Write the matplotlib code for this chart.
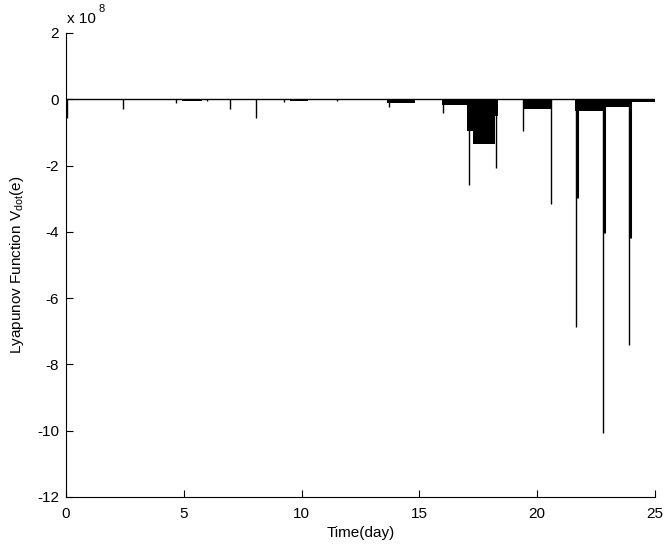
import matplotlib
matplotlib.use("Agg")
import matplotlib.pyplot as plt

plt.rcParams['font.family'] = ['Liberation Sans', 'DejaVu Sans']
plt.rcParams['mathtext.fontset'] = 'custom'
plt.rcParams['mathtext.rm'] = 'Liberation Sans'
plt.rcParams['mathtext.it'] = 'Liberation Sans'
plt.rcParams['axes.unicode_minus'] = False

# values in units of 1e8
# narrow spikes: time (day), depth
spike_t = [0.03, 2.42, 4.67, 5.98, 6.96, 8.06, 9.25, 11.5, 13.71, 16.0,
           17.1, 18.25, 19.4, 20.59, 21.65, 22.8, 23.9]
spike_v = [-0.57, -0.29, -0.1, -0.05, -0.29, -0.57, -0.08, -0.05, -0.23, -0.42,
           -2.58, -2.07, -0.95, -3.15, -6.88, -10.08, -7.42]

# thicker upper parts of the last three spikes
thick_t = [21.67, 22.82, 23.92]
thick_v = [-2.98, -4.04, -4.2]

# dense oscillation regions: start, end, depth
band_start = [4.92, 9.5, 13.62, 15.96, 17.02, 17.27, 18.2, 19.4, 21.6, 22.79, 23.94]
band_end = [5.77, 10.27, 14.81, 17.02, 17.27, 18.2, 18.34, 20.63, 22.79, 23.9, 25.0]
band_v = [-0.06, -0.05, -0.12, -0.17, -0.95, -1.35, -0.5, -0.3, -0.36, -0.22, -0.07]

fig = plt.figure(figsize=(6.66, 5.48), dpi=100)
ax = fig.add_axes([0.0991, 0.0931, 0.8844, 0.8467])

ax.plot([0, 25], [0, 0], color='k', lw=1.0)
for s, e, v in zip(band_start, band_end, band_v):
    ax.fill_between([s, e], [v, v], [0, 0], color='k', lw=0)
ax.vlines(spike_t, spike_v, 0, color='k', lw=1.0)
ax.vlines(thick_t, thick_v, 0, color='k', lw=2.2)

ax.set_xlim(0, 25)
ax.set_ylim(-12, 2)
ax.set_xticks([0, 5, 10, 15, 20, 25])
ax.set_yticks([-12, -10, -8, -6, -4, -2, 0, 2])
ax.tick_params(direction='in', length=5, labelsize=11, width=0.8)
ax.tick_params(axis='x', pad=7)
ax.tick_params(axis='y', pad=5)
ax.spines['top'].set_visible(False)
ax.spines['right'].set_visible(False)
for sp in ['left', 'bottom']:
    ax.spines[sp].set_linewidth(0.8)

ax.set_xlabel('Time(day)', fontsize=11, labelpad=4)
ax.set_ylabel(r'Lyapunov Function V$_{\mathrm{dot}}$(e)', fontsize=11, labelpad=8)

fig.text(0.101, 0.958, 'x 10', fontsize=11, ha='left', va='baseline')
fig.text(0.148, 0.978, '8', fontsize=8, ha='left', va='baseline')

fig.savefig('out.png', dpi=100)
